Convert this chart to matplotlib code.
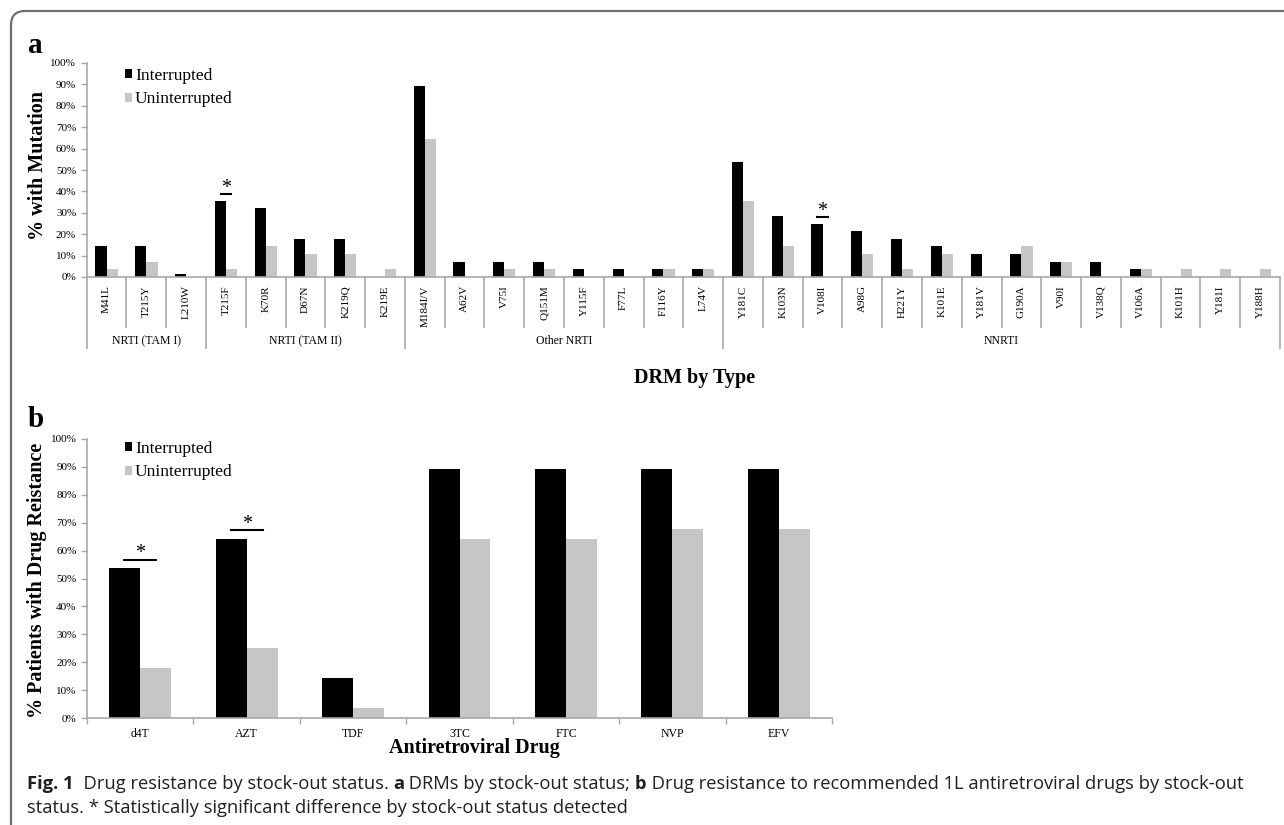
import matplotlib.pyplot as plt
from matplotlib.patches import FancyBboxPatch
from matplotlib.ticker import FixedLocator

# Panel a: drug resistance mutations by type
mutations = ['M41L', 'T215Y', 'L210W', 'T215F', 'K70R', 'D67N', 'K219Q', 'K219E',
             'M184I/V', 'A62V', 'V75I', 'Q151M', 'Y115F', 'F77L', 'F116Y', 'L74V',
             'Y181C', 'K103N', 'V108I', 'A98G', 'H221Y', 'K101E', 'Y181V', 'G190A',
             'V90I', 'V138Q', 'V106A', 'K101H', 'Y181I', 'Y188H']
mut_interrupted = [14.3, 14.3, 1.5, 35.7, 32.1, 17.9, 17.9, 0, 89.3, 7.1, 7.1, 7.1, 3.6, 3.6,
                   3.6, 3.6, 53.6, 28.6, 25.0, 21.4, 17.9, 14.3, 10.7, 10.7, 7.1, 7.1, 3.6,
                   0, 0, 0]
mut_uninterrupted = [3.6, 7.1, 0, 3.6, 14.3, 10.7, 10.7, 3.6, 64.3, 0, 3.6, 3.6, 0, 0,
                     3.6, 3.6, 35.7, 14.3, 0, 10.7, 3.6, 10.7, 0, 14.3, 7.1, 0, 3.6,
                     3.6, 3.6, 3.6]
groups = ['NRTI (TAM I)', 'NRTI (TAM II)', 'Other NRTI', 'NNRTI']
group_sizes = [3, 5, 8, 14]
mut_significant = ['T215F', 'V108I']

# Panel b: resistance to recommended first-line drugs
drugs = ['d4T', 'AZT', 'TDF', '3TC', 'FTC', 'NVP', 'EFV']
drug_interrupted = [53.6, 64.3, 14.3, 89.3, 89.3, 89.3, 89.3]
drug_uninterrupted = [17.9, 25.0, 3.6, 64.3, 64.3, 67.9, 67.9]
drug_significant = ['d4T', 'AZT']

W, H = 1284, 825
BLACK = '#000000'
GRAY = '#c6c6c6'
AXGRAY = '#a8a8a8'
SERIF = 'Liberation Serif'
plt.rcParams['font.family'] = SERIF

fig = plt.figure(figsize=(W / 100, H / 100), dpi=100)

# rounded frame running off the right and bottom edge
frame = FancyBboxPatch((0.11, -0.5), 14, 8.64, boxstyle='round,pad=0,rounding_size=0.14',
                       transform=fig.dpi_scale_trans, fill=False, edgecolor='#6e6e6e', lw=1.6)
fig.patches.append(frame)


def px(x, y):
    return x / W, 1 - y / H


def style_axes(ax):
    for s in ['top', 'right']:
        ax.spines[s].set_visible(False)
    for s in ['left', 'bottom']:
        ax.spines[s].set_color(AXGRAY)
        ax.spines[s].set_linewidth(1.2)
    ax.tick_params(axis='y', colors=AXGRAY, length=4, width=1.0, labelcolor='black',
                   labelsize=8)
    ax.set_yticks(range(0, 101, 10))
    ax.set_yticklabels([f'{v}%' for v in range(0, 101, 10)])
    ax.set_ylim(0, 100)


legend_kw = dict(bbox_transform=fig.transFigure, loc='upper left', frameon=False,
                 fontsize=12.5, borderpad=0, borderaxespad=0, handlelength=0.42,
                 handleheight=0.42, handletextpad=0.15, labelspacing=0.42)

# ---------------- panel a ----------------
ax1 = fig.add_axes([86.7 / W, (H - 277) / H, (1280 - 86.7) / W, 214 / H])
xa = list(range(len(mutations)))
w = 0.28
b1 = ax1.bar([x - w / 2 for x in xa], mut_interrupted, w, color=BLACK, label='Interrupted')
b2 = ax1.bar([x + w / 2 for x in xa], mut_uninterrupted, w, color=GRAY, label='Uninterrupted')
ax1.set_xlim(-0.5, len(mutations) - 0.5)
style_axes(ax1)
ax1.set_xticks(xa)
ax1.set_xticklabels(mutations, rotation=90, fontsize=8, va='top')
ax1.tick_params(axis='x', length=0, pad=6)

trans = ax1.get_xaxis_transform()
bounds = [-0.5]
for n in group_sizes:
    bounds.append(bounds[-1] + n)
for i in range(len(mutations) + 1):
    edge = i - 0.5
    depth = -0.332 if edge in bounds else -0.234
    ax1.plot([edge, edge], [0, depth], color=AXGRAY, lw=1.2, transform=trans, clip_on=False)
for g, lo, hi in zip(groups, bounds[:-1], bounds[1:]):
    ax1.text((lo + hi) / 2, -0.299, g, transform=trans, ha='center', va='center', fontsize=8.5)

for m in mut_significant:
    i = mutations.index(m)
    y = mut_interrupted[i] + 3.2
    ax1.plot([i - 0.13, i + 0.13], [y, y], color='black', lw=1.5)
    ax1.text(i, y + 0.4, '*', ha='center', va='baseline', fontsize=14.5)

ax1.legend(handles=[b1, b2], bbox_to_anchor=px(125, 68), **legend_kw)

fig.text(*px(38, 165), '% with Mutation', rotation=90, ha='center', va='center',
         fontsize=14.5, fontweight='bold')
fig.text(*px(695, 378), 'DRM by Type', ha='center', va='center', fontsize=14.5,
         fontweight='bold')
fig.text(*px(28, 53), 'a', ha='left', va='baseline', fontsize=21, fontweight='bold')

# ---------------- panel b ----------------
ax2 = fig.add_axes([87 / W, (H - 718) / H, (832 - 87) / W, 279 / H])
xb = list(range(len(drugs)))
wb = 0.29
c1 = ax2.bar([x - wb / 2 for x in xb], drug_interrupted, wb, color=BLACK, label='Interrupted')
c2 = ax2.bar([x + wb / 2 for x in xb], drug_uninterrupted, wb, color=GRAY, label='Uninterrupted')
ax2.set_xlim(-0.5, len(drugs) - 0.5)
style_axes(ax2)
ax2.set_xticks(xb)
ax2.set_xticklabels(drugs, fontsize=8.5)
ax2.tick_params(axis='x', which='major', length=0, pad=7)
ax2.xaxis.set_minor_locator(FixedLocator([i - 0.5 for i in range(len(drugs) + 1)]))
ax2.tick_params(axis='x', which='minor', length=4, width=1.0, color=AXGRAY)

for d in drug_significant:
    i = drugs.index(d)
    y = drug_interrupted[i] + 3.2
    ax2.plot([i - 0.15, i + 0.15], [y, y], color='black', lw=1.5)
    ax2.text(i, y + 0.4, '*', ha='center', va='baseline', fontsize=14.5)

ax2.legend(handles=[c1, c2], bbox_to_anchor=px(125, 441), **legend_kw)

fig.text(*px(37, 580), '% Patients with Drug Reistance', rotation=90, ha='center',
         va='center', fontsize=14.5, fontweight='bold')
fig.text(*px(474, 748), 'Antiretroviral Drug', ha='center', va='center', fontsize=14.5,
         fontweight='bold')
fig.text(*px(28, 427), 'b', ha='left', va='baseline', fontsize=21, fontweight='bold')

# ---------------- caption ----------------
renderer = fig.canvas.get_renderer()
cap_font = 'Open Sans'
cap_size = 13.2
cap_color = '#231f20'
line1 = [('Fig. 1', 'bold'), ('  Drug resistance by stock-out status. ', 'normal'),
         ('a', 'bold'), (' DRMs by stock-out status; ', 'normal'), ('b', 'bold'),
         (' Drug resistance to recommended 1L antiretroviral drugs by stock-out', 'normal')]
line2 = [('status. * Statistically significant difference by stock-out status detected', 'normal')]
for pieces, base in [(line1, 789), (line2, 813)]:
    x = 27
    for s, wt in pieces:
        t = fig.text(*px(x, base), s, ha='left', va='baseline', fontsize=cap_size,
                     fontweight=wt, family=cap_font, color=cap_color)
        x = t.get_window_extent(renderer).x1

fig.savefig('out.png', dpi=100)
